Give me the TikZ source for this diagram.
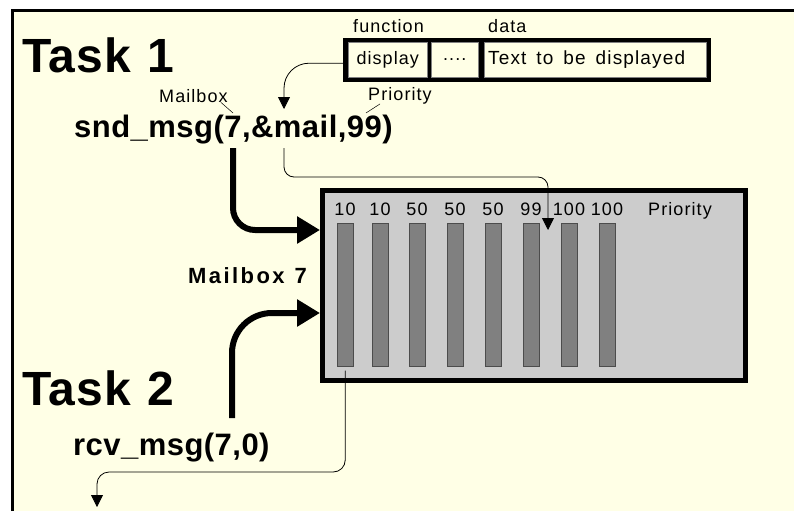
\documentclass[tikz,border=0pt]{standalone}
\usepackage{fontspec}
\setmainfont{Liberation Sans}
\newfontfamily\widefont[LetterSpace=6]{Liberation Sans}
\newfontfamily\namefont[LetterSpace=11]{Liberation Sans}
\newfontfamily\taskfont[LetterSpace=2]{Liberation Sans}
\newfontfamily\callfont[LetterSpace=1.5]{Liberation Sans}
\newcommand\wordgap[1]{\spaceskip #1\relax}
\usepackage{tikz}
\usetikzlibrary{arrows.meta, positioning, calc}
\definecolor{cream}{RGB}{255,255,230}
\definecolor{boxgray}{RGB}{204,204,204}
\definecolor{slotgray}{RGB}{128,128,128}

\begin{document}
\begin{tikzpicture}[
    x=1pt, y=-1pt,
    task/.style={anchor=base west, inner sep=0, font={\taskfont\bfseries\fontsize{48}{48}\selectfont\wordgap{17pt}}},
    call/.style={anchor=base west, inner sep=0, font=\callfont\bfseries\fontsize{31}{31}\selectfont},
    note/.style={anchor=base west, inner sep=0, font=\widefont\fontsize{18}{18}\selectfont},
    cell/.style={rectangle, draw=black!50, fill=cream, line width=0.5pt, anchor=north west, minimum height=35pt, inner sep=0, font=\widefont\fontsize{18}{18}\selectfont},
    slot/.style={rectangle, draw=black!70, fill=slotgray, line width=0.5pt, anchor=north west, minimum width=16pt, minimum height=143pt, inner sep=0},
    prio/.style={anchor=base, inner sep=0, font=\widefont\fontsize{18}{18}\selectfont},
    fat/.style={line width=6pt, -{Triangle[length=23pt, width=26pt]}},
    thin/.style={line width=0.8pt, rounded corners=10pt, -{Triangle[length=12pt, width=12pt]}},
    lead/.style={line width=0.5pt},
]

% Frame
\useasboundingbox (0,0) rectangle (794,511);
\fill[white] (0,0) rectangle (794,511);
\fill[cream] (12,11) rectangle (794,511);
\draw[line width=3pt] (12,511) -- (12,11) -- (794,11);

% Tasks and calls
\node[task] (task1) at (22,72) {Task 1};
\node[task] (task2) at (22,405) {Task 2};
\node[call] (snd) at (74,137) {snd\_msg(7,\&mail,99)};
\node[call] (rcv) at (73,455) {rcv\_msg(7,0)};
\node[note] (mbxnote) at (159,102) {Mailbox};
\node[note] (prinote) at (368,100) {Priority};

% Message
\node[rectangle, fill=black, anchor=north west, minimum width=368pt, minimum height=44pt, inner sep=0] (msg) at (343,38) {};
\node[cell, minimum width=79pt] (fn) at (348,42) {display};
\node[cell, minimum width=47pt] (dots) at (431,42) {....};
\node[cell, minimum width=222pt] (data) at (484,42) {};
\node[anchor=base west, inner sep=0, font={\widefont\fontsize{19}{19}\selectfont\wordgap{10pt}}] (datatext) at (488,64) {Text to be displayed};
\node[note] (fnnote) at (353,33) {function};
\node[note] (datanote) at (488,33) {data};

% Mailbox
\node[rectangle, draw, line width=5pt, fill=boxgray, minimum width=423pt, minimum height=190pt, inner sep=0] (mbox) at (534,285.5) {};
\node[anchor=base west, inner sep=0, font={\namefont\bfseries\fontsize{22}{22}\selectfont\wordgap{10pt}}] (mbxname) at (188,283) {Mailbox 7};
\foreach \x/\p [count=\i] in {337/10, 372/10, 409/50, 447/50, 485/50, 523/99, 561/100, 599/100} {
  \node[slot] (slot\i) at (\x,223) {};
  \node[prio] (prio\i) at (\x+8,215) {\p};
}
\node[prio, anchor=base west] (prihead) at (648,215) {Priority};

% Ends
\coordinate (seven) at (233,148);
\coordinate (recv) at (232,418);
\coordinate (mailtop) at (284,109);
\coordinate (mailbot) at (284,148);
\coordinate (gap) at (548,230);
\coordinate (out) at (97,507);
\coordinate (mbxtick) at (233,113);
\coordinate (pritick) at (366,113);

% Arrows
\draw[fat, rounded corners=22pt] (seven) |- ($(mbox.north west)+(0,42)$);
\draw[fat, rounded corners=40pt] (recv) |- ($(mbox.north west)+(0,125)$);
\draw[thin, rounded corners=25pt] ($(msg.west)+(0,3)$) -| (mailtop);
\draw[thin] (mailbot) |- ($(gap)+(0,-53)$) -- (gap);
\draw[thin, rounded corners=12pt] ($(slot1.south)+(0,4)$) |- ($(out)+(0,-35)$) -- (out);

% Leaders
\draw[lead] ([xshift=-7pt]mbxnote.south east) -- (mbxtick);
\draw[lead] ([xshift=12pt]prinote.south west) -- (pritick);

\end{tikzpicture}
\end{document}
